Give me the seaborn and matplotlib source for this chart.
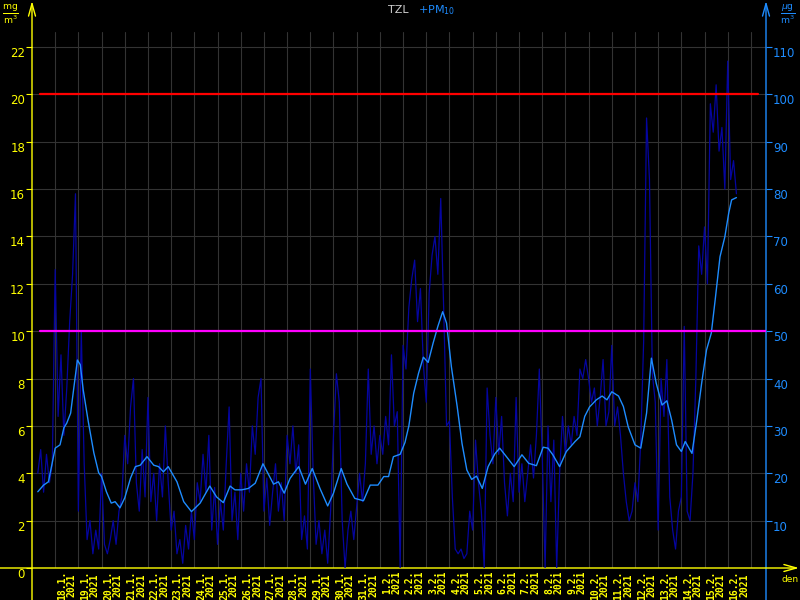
import pandas as pd
import numpy as np
import matplotlib
matplotlib.use("Agg")
import matplotlib.pyplot as plt
import seaborn as sns

# PM10 readings (ug/m3), every 3 hours from 17.1.2021 06:00
pm10_start = "2021-01-17 06:00"
pm10_values = [
    20, 25, 16, 24, 18, 22,
    63, 32, 45, 28, 38, 52, 62, 79,
    12, 50, 22, 6, 10, 3, 8, 4,
    20, 5, 3, 6, 10, 5, 12, 15,
    28, 22, 34, 40, 18, 12, 25, 15,
    36, 14, 20, 10, 22, 15, 30, 18,
    8, 12, 3, 6, 1, 9, 4, 12,
    6, 18, 14, 24, 16, 28, 8, 17,
    5, 14, 8, 22, 34, 10, 16, 6,
    20, 12, 22, 16, 30, 24, 36, 40,
    12, 19, 9, 16, 22, 12, 18, 10,
    28, 22, 30, 20, 26, 6, 11, 4,
    42, 20, 5, 10, 3, 8, 1, 12,
    28, 41, 35, 10, 0, 8, 12, 6,
    13, 20, 14, 22, 42, 24, 30, 22,
    28, 24, 32, 26, 45, 30, 33, 0,
    47, 42, 55, 61, 65, 52, 59, 43,
    35, 58, 66, 70, 62, 78, 55, 30,
    31, 15, 4, 3, 4, 2, 3, 12,
    8, 27, 18, 12, 0, 38, 28, 22,
    36, 24, 32, 18, 11, 20, 14, 36,
    16, 22, 14, 20, 26, 19, 28, 42,
    24, 0, 30, 14, 27, 0, 20, 32,
    24, 30, 26, 32, 28, 42, 40, 44,
    40, 35, 38, 30, 36, 44, 30, 33,
    47, 30, 34, 28, 20, 14, 10, 12,
    18, 14, 27, 48, 95, 82, 41, 35,
    8, 40, 32, 44, 15, 8, 4, 12,
    15, 51, 12, 10, 20, 40, 68, 62,
    72, 60, 98, 92, 102, 88, 93, 80,
    107, 82, 86, 79,
]

# moving average (hours after 17.1.2021 00:00, ug/m3)
ma_hours = [6, 12, 17, 24, 29, 33, 36, 40, 43, 47, 50, 53, 58, 64, 69, 72, 77, 82, 86, 91,
            96, 102, 107, 112, 119, 126, 131, 136, 141, 150, 157, 165, 174, 184, 191, 198,
            205, 210, 217, 224, 231, 239, 250, 255, 261, 267, 276, 283, 290, 298, 306, 312,
            320, 326, 334, 343, 350, 358, 364, 369, 374, 381, 386, 390, 395, 400, 405, 410,
            415, 420, 425, 429, 434, 440, 445, 450, 455, 460, 466, 472, 479, 484, 491, 499,
            507, 514, 522, 529, 534, 539, 546, 553, 562, 567, 572, 577, 584, 590, 595, 600,
            607, 612, 617, 624, 630, 636, 641, 646, 652, 657, 662, 667, 672, 676, 683, 688,
            693, 698, 703, 707, 712, 717, 721, 724, 729]
ma_values = [16.1, 17.5, 18.2, 25.3, 26, 29.6, 30.6, 32.7, 37.6, 43.9, 42.9, 37.6, 31.2, 24.3,
             20.1, 19.3, 16.1, 13.7, 14, 12.7, 14.8, 19, 21.4, 21.7, 23.5, 21.7, 21.4, 20.3,
             21.4, 18.2, 14, 11.9, 13.7, 17.3, 15, 13.8, 17.3, 16.5, 16.5, 16.8, 17.9, 22,
             17.7, 18.2, 15.8, 18.9, 21.4, 17.7, 21, 16.8, 13.1, 15.8, 21, 17.7, 14.7, 14.2,
             17.5, 17.5, 19.3, 19.3, 23.5, 24, 26.5, 30, 36.9, 41.1, 44.5, 43.4, 47.4, 51,
             54.1, 51.7, 42.5, 34.1, 26.3, 20.7, 18.7, 19.4, 16.8, 21.4, 24.1, 25.3, 23.5,
             21.4, 23.9, 22.1, 21.6, 25.5, 25.3, 23.9, 21.4, 24.6, 26.7, 27.7, 32, 34, 35.5,
             36.3, 35.5, 37.2, 36.3, 34.1, 29.8, 26, 25.3, 32.7, 44.3, 39, 34.4, 35.3, 31.2,
             26, 24.6, 26.7, 24.2, 31.2, 39, 46, 49.6, 56.6, 65.7, 69.9, 74.9, 77.7, 78.2]

limit_red = 100      # ug/m3
limit_magenta = 50   # ug/m3
day_first = "2021-01-18"
day_last = "2021-02-16"

yellow = "#ffff00"
blue = "#1e8cff"

sns.set_style("dark", {"axes.facecolor": "black", "figure.facecolor": "black"})
plt.rcParams["font.family"] = ["DejaVu Sans"]

t0 = pd.Timestamp("2021-01-17 00:00")
hourly = pd.DataFrame({"time": pd.date_range(pm10_start, periods=len(pm10_values), freq="3h"),
                       "pm10": pm10_values})
avg = pd.DataFrame({"time": t0 + pd.to_timedelta(ma_hours, unit="h"), "pm10": ma_values})

fig = plt.figure(figsize=(8, 6), dpi=100, facecolor="black")
ax = fig.add_axes([32 / 800, 32 / 600, 734 / 800, 536 / 600])
ax.set_facecolor("black")
ax2 = ax.twinx()

sns.lineplot(data=hourly, x="time", y="pm10", ax=ax2, color="#0505a0", lw=0.9)
sns.lineplot(data=avg, x="time", y="pm10", ax=ax2, color=blue, lw=1.0)
ax2.axhline(limit_red, xmin=0.011, xmax=0.989, color="#ff0000", lw=1.6)
ax2.axhline(limit_magenta, xmin=0.011, xmax=1.0, color="#ff00ff", lw=1.6)

ax.set_xlim(t0, t0 + pd.Timedelta(days=31.65))
ax.set_ylim(0, 22.63)
ax2.set_ylim(0, 113.15)

days = pd.date_range(day_first, day_last, freq="D")
ax.set_xticks(list(days) + [days[-1] + pd.Timedelta(days=1)])
ax.set_xticklabels([])
ax.set_xticks(days + pd.Timedelta(hours=12), minor=True)
ax.set_xticklabels([f"{d.day}.{d.month}.\n{d.year}" for d in days], minor=True,
                   rotation=90, fontsize=7, family="DejaVu Sans Mono", weight="bold",
                   color=yellow, va="top", ha="center", linespacing=0.95)
ax.tick_params(axis="x", which="major", direction="out", length=5, color=yellow, width=1)
ax.tick_params(axis="x", which="minor", length=0, pad=2)

ax.set_yticks(np.arange(0, 23, 2))
ax.tick_params(axis="y", direction="out", length=4, color=yellow, labelcolor=yellow,
               labelsize=8.5, pad=1)
ax2.set_yticks(np.arange(10, 111, 10))
ax2.tick_params(axis="y", direction="out", length=4, color=blue, labelcolor=blue,
                labelsize=8.5, pad=1)
for lbl in ax.get_yticklabels() + ax2.get_yticklabels():
    lbl.set_verticalalignment("top")

ax.grid(True, color="#333333", lw=0.8)
ax2.grid(False)
ax.set_xlabel("")
ax.set_ylabel("")
ax2.set_xlabel("")
ax2.set_ylabel("")
for a in (ax, ax2):
    for s in a.spines.values():
        s.set_visible(False)

# axis lines with arrows
arrow = dict(arrowstyle="->,head_length=0.9,head_width=0.25", lw=1, shrinkA=0, shrinkB=0)
ax.annotate("", xy=(32, 599), xytext=(32, 0), xycoords="figure pixels",
            textcoords="figure pixels", arrowprops=dict(arrow, color=yellow), annotation_clip=False)
ax.annotate("", xy=(766, 599), xytext=(766, 0), xycoords="figure pixels",
            textcoords="figure pixels", arrowprops=dict(arrow, color=blue), annotation_clip=False)
ax.annotate("", xy=(799, 32), xytext=(0, 32), xycoords="figure pixels",
            textcoords="figure pixels", arrowprops=dict(arrow, color=yellow), annotation_clip=False)

fig.text(398 / 800, 1 - 10 / 600, "TZL", color="#d0d0d0", fontsize=8, ha="center", va="center")
fig.text(418 / 800, 1 - 10 / 600, "+PM$_{10}$", color=blue, fontsize=8, ha="left", va="center")
fig.text(10 / 800, 1 - 14 / 600, r"$\frac{\mathrm{mg}}{\mathrm{m}^3}$", color=yellow,
         fontsize=9.5, ha="center", va="center")
fig.text(788 / 800, 1 - 14 / 600, r"$\frac{\mu\mathrm{g}}{\mathrm{m}^3}$", color=blue,
         fontsize=9.5, ha="center", va="center")
fig.text(790 / 800, 1 - 579 / 600, "den", color=yellow, fontsize=6.5, ha="center", va="center")

fig.savefig("out.png", dpi=100, facecolor="black")
